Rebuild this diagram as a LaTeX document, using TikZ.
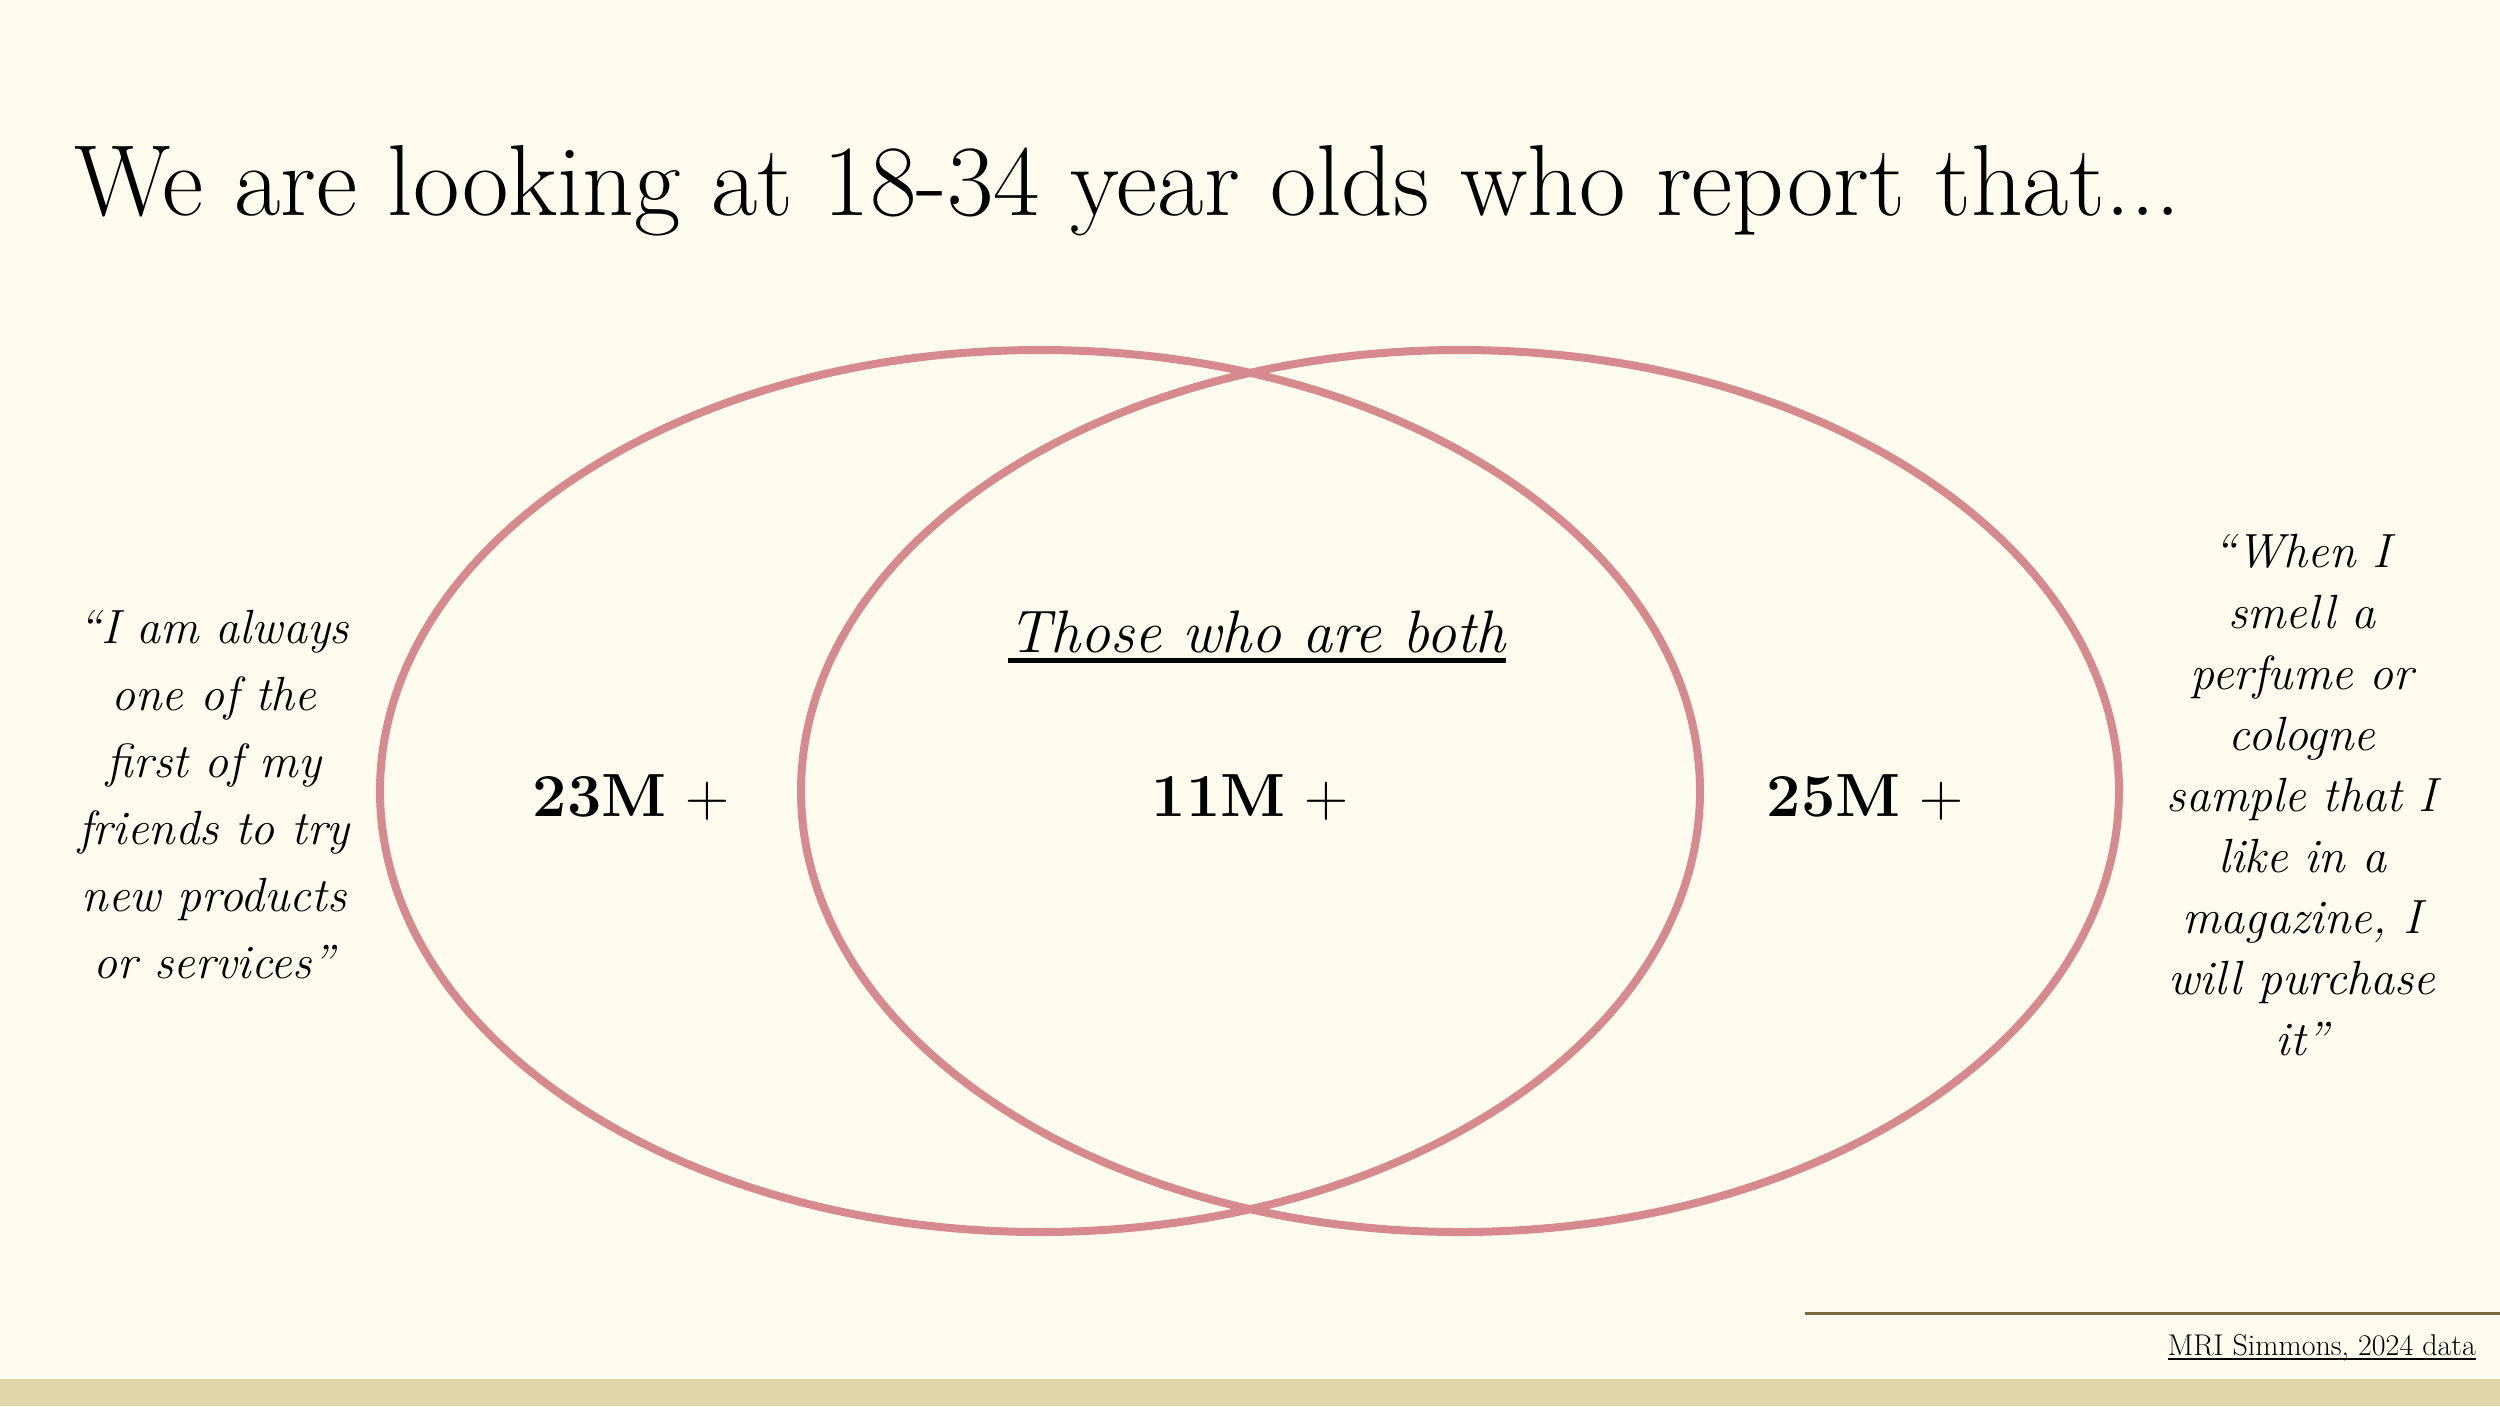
\documentclass[tikz,border=0pt]{standalone}
\definecolor{bg}{RGB}{254,252,238}
\definecolor{band}{RGB}{225,213,169}
\definecolor{rosy}{RGB}{214,138,144}
\definecolor{olive}{RGB}{122,106,60}
\begin{document}
\begin{tikzpicture}[x=1pt,y=-1pt,
  circ/.style={draw=rosy, line width=8pt},
  quote/.style={align=center, inner sep=0pt, font=\itshape\fontsize{48}{67}\selectfont},
  num/.style={inner sep=0pt, anchor=base, font=\fontsize{61}{70}\selectfont},
  uline/.style={line width=#1}]
\fill[bg] (0,0) rectangle (2500,1406);
\useasboundingbox (0,0) rectangle (2500,1406);
\fill[band] (0,1379) rectangle (2500,1406);
% Venn circles
\draw[circ] (1040,791) ellipse [x radius=660pt, y radius=441pt];
\draw[circ] (1460,791) ellipse [x radius=659pt, y radius=441pt];
% title
\node[anchor=base west, inner sep=0pt, font=\fontsize{101}{110}\selectfont] (title) at (74,215)
  {We are looking at 18-34 year olds who report that...};
% quotes
\node[quote] (lq) at (214,795)
  {\textquotedblleft I am always\\ one of the\\ first of my\\ friends to try\\ new products\\ or services\textquotedblright};
\node[quote, font=\itshape\fontsize{48}{61}\selectfont] (rq) at (2302,795)
  {\textquotedblleft When I\\ smell a\\ perfume or\\ cologne\\ sample that I\\ like in a\\ magazine, I\\ will purchase\\ it\textquotedblright};
% centre heading
\node[anchor=base, inner sep=0pt, font=\itshape\fontsize{60}{70}\selectfont] (both) at (1257,652) {Those who are both};
\draw[uline=5pt] ([yshift=-8pt]both.base west) -- ([yshift=-8pt]both.base east);
% numbers
\node[num] (n1) at (631,816) {\textbf{23M} +};
\node[num] (n2) at (1250,816) {\textbf{11M} +};
\node[num] (n3) at (1865,816) {\textbf{25M} +};
% footer
\coordinate (fl) at (1805,1313);
\coordinate (fr) at (2500,1313);
\draw[olive, line width=3pt] (fl) -- (fr);
\node[anchor=base east, inner sep=0pt, font=\fontsize{30}{34}\selectfont] (src) at (2476,1355) {MRI Simmons, 2024 data};
\draw[uline=2pt] ([yshift=-4pt]src.base west) -- ([yshift=-4pt]src.base east);
\end{tikzpicture}
\end{document}
